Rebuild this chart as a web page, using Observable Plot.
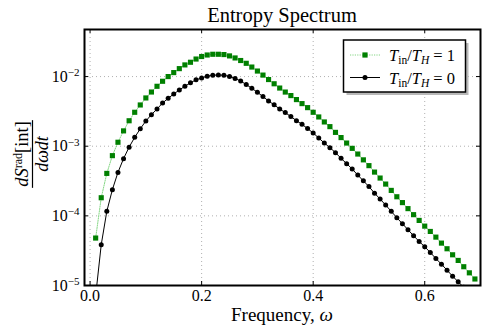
<!DOCTYPE html>
<html><head><meta charset="utf-8">
<script src="https://cdn.jsdelivr.net/npm/d3@7"></script>
<script src="https://cdn.jsdelivr.net/npm/@observablehq/plot@0.6"></script>
<style>
body{margin:0;background:#fff;}
#chart svg{display:block;font-family:"Liberation Serif",serif;}
</style></head><body><div id="chart"></div>
<script>
const titleText = "Entropy Spectrum";
const xLabelText = "Frequency, ";
const xLabelSymbol = "ω";
const xTicks = [0, 0.2, 0.4, 0.6];
const xTickLabels = ["0.0", "0.2", "0.4", "0.6"];
const yTicks = [1e-5, 1e-4, 1e-3, 1e-2];
const yTickLabels = ["10^−5", "10^−4", "10^−3", "10^−2"];
const seriesTin = ["1", "0"];

const greenFreq = [0.01,0.02,0.03,0.04,0.05,0.06,0.07,0.08,0.09,0.10,
  0.11,0.12,0.13,0.14,0.15,0.16,0.17,0.18,0.19,0.20,
  0.21,0.22,0.23,0.24,0.25,0.26,0.27,0.28,0.29,0.30,
  0.31,0.32,0.33,0.34,0.35,0.36,0.37,0.38,0.39,0.40,
  0.41,0.42,0.43,0.44,0.45,0.46,0.47,0.48,0.49,0.50,
  0.51,0.52,0.53,0.54,0.55,0.56,0.57,0.58,0.59,0.60,
  0.61,0.62,0.63,0.64,0.65,0.66,0.67,0.68,0.69];
const greenVals = [4.8e-5,1.82e-4,4.07e-4,7.32e-4,1.14e-3,1.66e-3,2.32e-3,3.07e-3,3.91e-3,4.93e-3,
  6.0e-3,7.25e-3,8.56e-3,1.0e-2,1.14e-2,1.30e-2,1.47e-2,1.605e-2,1.785e-2,1.94e-2,
  2.04e-2,2.09e-2,2.09e-2,2.07e-2,1.98e-2,1.85e-2,1.70e-2,1.55e-2,1.37e-2,1.20e-2,
  1.05e-2,9.06e-3,7.88e-3,6.84e-3,5.99e-3,5.33e-3,4.67e-3,4.09e-3,3.58e-3,3.07e-3,
  2.63e-3,2.23e-3,1.91e-3,1.58e-3,1.33e-3,1.11e-3,9.32e-4,7.72e-4,6.37e-4,5.26e-4,
  4.25e-4,3.49e-4,2.86e-4,2.32e-4,1.88e-4,1.55e-4,1.27e-4,1.04e-4,8.60e-5,7.12e-5,
  5.97e-5,4.95e-5,4.06e-5,3.37e-5,2.76e-5,2.29e-5,1.86e-5,1.52e-5,1.24e-5];

const blackFreq = [0.01,0.02,0.03,0.04,0.05,0.06,0.07,0.08,0.09,0.10,
  0.11,0.12,0.13,0.14,0.15,0.16,0.17,0.18,0.19,0.20,
  0.21,0.22,0.23,0.24,0.25,0.26,0.27,0.28,0.29,0.30,
  0.31,0.32,0.33,0.34,0.35,0.36,0.37,0.38,0.39,0.40,
  0.41,0.42,0.43,0.44,0.45,0.46,0.47,0.48,0.49,0.50,
  0.51,0.52,0.53,0.54,0.55,0.56,0.57,0.58,0.59,0.60,
  0.61,0.62,0.63,0.64,0.65,0.66,0.67];
const blackVals = [7.1e-6,3.85e-5,1.16e-4,2.38e-4,4.21e-4,6.63e-4,9.70e-4,1.34e-3,1.78e-3,2.30e-3,
  2.84e-3,3.42e-3,4.17e-3,4.88e-3,5.62e-3,6.42e-3,7.25e-3,8.15e-3,8.97e-3,9.55e-3,
  1.01e-2,1.044e-2,1.054e-2,1.044e-2,1.0e-2,9.36e-3,8.65e-3,7.67e-3,6.79e-3,5.95e-3,
  5.16e-3,4.46e-3,3.93e-3,3.42e-3,3.04e-3,2.66e-3,2.33e-3,2.06e-3,1.79e-3,1.55e-3,
  1.31e-3,1.11e-3,9.54e-4,8.08e-4,6.69e-4,5.62e-4,4.70e-4,3.85e-4,3.18e-4,2.63e-4,
  2.12e-4,1.74e-4,1.43e-4,1.16e-4,9.40e-5,7.71e-5,6.32e-5,5.18e-5,4.29e-5,3.60e-5,
  2.98e-5,2.44e-5,2.02e-5,1.66e-5,1.36e-5,1.13e-5,9.4e-6];

const green = greenFreq.map((f, i) => ({f, v: greenVals[i]}));
const black = blackFreq.map((f, i) => ({f, v: blackVals[i]}));

const W = 488, H = 335, mL = 84, mR = 8, mT = 29, mB = 50;
const fw = W - mL - mR, fh = H - mT - mB, tick = 4;
const GREEN = "#008000", GREEN_LINE = "#66cc66";
const FONT = "Liberation Serif";

const plot = Plot.plot({
  width: W, height: H,
  marginLeft: mL, marginRight: mR, marginTop: mT, marginBottom: mB,
  style: {fontFamily: FONT, fontSize: "16px", color: "#000", background: "#fff"},
  x: {domain: [-0.01, 0.70]},
  y: {type: "log", domain: [1e-5, 0.0474]},
  marks: [
    Plot.gridX(xTicks, {stroke: "#b0b0b0", strokeOpacity: 1, strokeDasharray: "1,3"}),
    Plot.gridY(yTicks, {stroke: "#b0b0b0", strokeOpacity: 1, strokeDasharray: "1,3"}),
    Plot.line(green, {x: "f", y: "v", stroke: GREEN_LINE, strokeWidth: 0.8, strokeDasharray: "1.2,1.2", clip: true}),
    Plot.line(black, {x: "f", y: "v", stroke: "#000", strokeWidth: 1, clip: true}),
    Plot.dot(green, {x: "f", y: "v", symbol: "square", r: 2.9, fill: GREEN, stroke: "none", clip: true}),
    Plot.dot(black, {x: "f", y: "v", r: 2.5, fill: "#000", stroke: "none", clip: true}),
    Plot.ruleX(xTicks, {insetTop: fh - tick, stroke: "#000"}),
    Plot.ruleX(xTicks, {insetBottom: fh - tick, stroke: "#000"}),
    Plot.ruleY(yTicks, {insetRight: fw - tick, stroke: "#000"}),
    Plot.ruleY(yTicks, {insetLeft: fw - tick, stroke: "#000"}),
    Plot.axisX(xTicks, {anchor: "bottom", tickSize: 0, tickPadding: 4, label: null, fontSize: 16,
      tickFormat: d => xTickLabels[xTicks.indexOf(d)]}),
    Plot.axisY(yTicks, {anchor: "left", tickSize: 0, tickPadding: 5, label: null, fontSize: 16,
      tickFormat: d => yTickLabels[yTicks.indexOf(d)]}),
    Plot.frame({stroke: "#000", strokeWidth: 2})
  ]
});
document.getElementById("chart").appendChild(plot);

const svg = d3.select(plot);
// superscript exponents on y tick labels
svg.selectAll('g[aria-label="y-axis tick label"] text').each(function () {
  const [base, exp] = this.textContent.split("^");
  const s = d3.select(this);
  s.text(null);
  s.append("tspan").text(base);
  s.append("tspan").attr("dy", "-0.5em").attr("font-size", "11px").text(exp);
});

// title
svg.append("text").attr("x", mL + fw / 2).attr("y", 22).attr("text-anchor", "middle")
  .attr("font-family", FONT).attr("font-size", 20.5).attr("fill", "#000").text(titleText);

// x label
const xl = svg.append("text").attr("x", mL + fw / 2).attr("y", 321).attr("text-anchor", "middle")
  .attr("font-family", FONT).attr("font-size", 19).attr("fill", "#000");
xl.append("tspan").text(xLabelText);
xl.append("tspan").attr("font-style", "italic").text(xLabelSymbol);

// y label (fraction)
const yg = svg.append("g").attr("transform", "translate(32.5,154) rotate(-90)")
  .attr("font-family", FONT).attr("fill", "#000").attr("text-anchor", "middle");
const num = yg.append("text").attr("x", 0).attr("y", -5).attr("font-size", 18.5);
num.append("tspan").attr("font-style", "italic").text("dS");
num.append("tspan").attr("font-size", 12).attr("dy", -6).text("rad");
num.append("tspan").attr("dy", 6).text("[int]");
const nw = num.node().getComputedTextLength();
yg.append("line").attr("x1", -nw / 2 - 1).attr("x2", nw / 2 + 1).attr("y1", 0).attr("y2", 0)
  .attr("stroke", "#000").attr("stroke-width", 1.2);
yg.append("text").attr("x", 0).attr("y", 15).attr("font-size", 18)
  .attr("font-style", "italic").text("dωdt");

// legend
const lg = svg.append("g").attr("font-family", FONT).attr("fill", "#000").attr("text-anchor", "start");
const lx = 343.5, ly = 40, lw = 122, lh = 52;
lg.append("rect").attr("x", lx + 3).attr("y", ly + 3).attr("width", lw).attr("height", lh).attr("fill", "#b8b8b8");
lg.append("rect").attr("x", lx).attr("y", ly).attr("width", lw).attr("height", lh)
  .attr("fill", "#fff").attr("stroke", "#000").attr("stroke-width", 1.5);
const rows = [
  {y: 55, line: GREEN_LINE, dash: "1.2,1.2", marker: "square", color: GREEN, t: seriesTin[0]},
  {y: 77.5, line: "#000", dash: null, marker: "circle", color: "#000", t: seriesTin[1]}
];
rows.forEach(r => {
  lg.append("line").attr("x1", 350).attr("x2", 380).attr("y1", r.y).attr("y2", r.y)
    .attr("stroke", r.line).attr("stroke-width", r.dash ? 0.8 : 1).attr("stroke-dasharray", r.dash);
  if (r.marker === "square") lg.append("rect").attr("x", 362.4).attr("y", r.y - 2.6).attr("width", 5.2).attr("height", 5.2).attr("fill", r.color);
  else lg.append("circle").attr("cx", 365).attr("cy", r.y).attr("r", 2.5).attr("fill", r.color);
  const t = lg.append("text").attr("x", 389).attr("y", r.y + 6).attr("font-size", 16.5);
  t.append("tspan").attr("font-style", "italic").text("T");
  t.append("tspan").attr("font-size", 11.5).attr("dy", 3).text("in");
  t.append("tspan").attr("dy", -3).text("/");
  t.append("tspan").attr("font-style", "italic").text("T");
  t.append("tspan").attr("font-size", 11.5).attr("font-style", "italic").attr("dy", 3).text("H");
  t.append("tspan").attr("dy", -3).text(" = " + r.t);
});
</script></body></html>
